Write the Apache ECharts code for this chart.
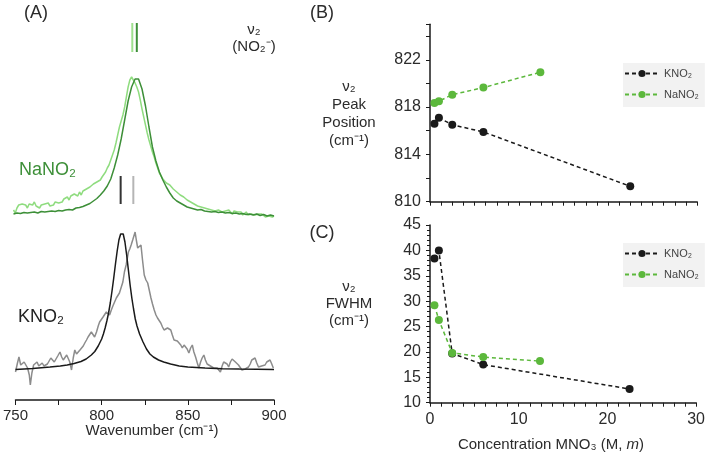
<!DOCTYPE html>
<html>
<head>
<meta charset="utf-8">
<script src="https://cdn.jsdelivr.net/npm/echarts@6/dist/echarts.min.js"></script>
<style>
  html, body { margin: 0; padding: 0; background: #fff; }
  #main { width: 708px; height: 454px; }
</style>
</head>
<body>
<div id="main"></div>
<script>
// (A) spectra: [wavenumber cm-1, intensity above baseline, arb. units]
const naDark = [
  [750,-1],[752,0],[754,-0.5],[756,0.5],[758,0],[760,0.5],[762,1],[764,0],[766,1.5],[768,1],
  [770,1.5],[772,2],[774,1.5],[776,2.5],[778,2],[780,3],[782,3.5],[784,3],[786,5],[788,5.5],
  [790,6.5],[792,8],[794,9.5],[796,12],[798,14.5],[800,18],[802,22],[804,27],[806,34],[808,45],
  [810,58],[812,74],[814,93],[816,112],[818,126],[820,134],[821,135],[822,134],[824,124],[826,107],
  [828,86],[830,66],[832,52],[834,41],[836,33],[838,26],[840,20],[842,15],[844,12],[846,10],
  [848,8],[850,6],[852,5],[854,4],[856,3],[858,3.5],[860,2],[862,1.5],[864,1],[866,1.5],
  [868,0.5],[870,1],[872,0],[874,0.5],[876,-0.5],[878,0],[880,-1],[882,-0.5],[884,-1.5],[886,-1],
  [888,-2],[890,-1],[892,-2.5],[894,-1.5],[896,-3],[898,-2],[900,-3]
];
const naLight = [
  [750,3],[751,0],[752,5],[753,8],[754,6],[755,9],[756,7],[757,8],[758,5],[759,9],
  [760,10],[761,8],[762,11],[763,7],[764,9],[765,5],[766,8],[767,6],[768,9],[769,8],
  [770,10],[771,7],[772,9],[773,8],[774,11],[775,9],[776,10],[777,12],[778,11],[779,14],
  [780,13],[781,16],[782,13],[783,17],[784,15],[785,19],[786,20],[787,17],[788,21],[789,18],
  [790,22],[791,20],[792,24],[793,22],[794,26],[795,25],[796,29],[797,27],[798,31],[799,30],
  [800,33],[801,36],[802,38],[803,41],[804,45],[805,48],[806,53],[807,58],[808,63],[809,70],
  [810,78],[811,86],[812,92],[813,98],[814,106],[815,116],[816,126],[817,133],[818,136],[819,134],
  [820,130],[821,126],[822,121],[823,113],[824,104],[825,96],[826,88],[827,80],[828,73],[829,67],
  [830,61],[831,56],[832,50],[833,45],[834,40],[835,37],[836,34],[837,33],[838,30],[839,31],
  [840,28],[841,27],[842,24],[843,25],[844,21],[845,22],[846,18],[847,19],[848,16],[849,17],
  [850,13],[851,14],[852,11],[853,12],[854,9],[855,10],[856,7],[857,9],[858,6],[859,8],
  [860,5],[861,7],[862,4],[863,6],[864,3],[865,5],[866,2],[867,4],[868,3],[869,5],
  [870,1],[871,3],[872,2],[873,0],[874,3],[875,1],[876,-1],[877,2],[878,0],[879,1],
  [880,-1],[881,1],[882,-2],[883,0],[884,1],[885,-2],[886,0],[887,-1],[888,1],[889,-2],
  [890,0],[891,-1],[892,-3],[893,-1],[894,-2],[895,-4],[896,-2],[897,-3],[898,-1],[899,-4],[900,-3]
];
const kFit = [
  [750,0.5],[760,1.5],[770,3],[776,4],[780,5],[784,6.5],[788,8.5],[791,11],[794,15],[796,18.5],
  [798,24],[800,31],[801,36],[802,42],[803,49],[804,57],[805,67],[806,79],[807,92],[808,106],
  [809,119],[810,130],[811,136],[811.7,138],[812.5,136],[813.5,128],[814.5,115],[815.5,100],[816.5,85],[817.5,72],
  [818.5,61],[819.5,51],[820.5,44],[822,36],[824,28],[826,21],[828,16],[830,13],[833,10],[836,8],
  [840,6],[845,4],[850,3],[860,2],[870,1.3],[880,1],[900,0.5]
];
const kExp = [
  [750,-2],[751,6],[752,13],[753,5],[754,3],[755,8],[756,6],[757,2],[758,-5],[758.6,-15],
  [759.5,-3],[760.5,5],[761.5,7],[762.5,8],[763.5,4],[764.5,6],[765.5,7],[766.5,4],[767.5,2],[768.5,6],
  [769.5,9],[770.5,12],[771.5,10],[772.5,8],[773.5,10],[774.5,14],[775.8,18],[776.8,13],[777.7,10],[778.7,12],
  [779.7,15],[780.6,17],[781.5,8],[782.5,0],[783.5,12],[784.4,20],[785.4,16],[786.4,17],[787.4,20],[788.3,22],
  [789.3,24],[790.2,27],[791.2,30],[792.1,33],[793,35],[794,38],[795,36],[795.9,33],[797,38],[798,44],
  [798.8,48],[799.8,50],[800.8,53],[801.7,55],[802.7,58],[803.6,56],[804.6,55],[805.6,60],[806.5,64],[807.5,68],
  [808.5,72],[809.5,74],[810.3,77],[811.3,78],[812.3,88],[813.2,98],[814.2,105],[815.5,118],[816.3,121],[817.1,125],
  [818,130],[818.7,128],[819.4,138],[820.1,130],[820.9,122],[821.8,124],[822.8,125],[823.7,110],[824.7,95],[825.7,90],
  [826.7,87],[827.6,80],[828.6,72],[829.5,66],[830.5,60],[831.5,55],[832.4,52],[833.4,50],[834.3,47],[835.3,43],
  [836.2,40],[837.2,38],[838.2,42],[839.1,41],[840.1,40],[841,35],[842,30],[843,31],[843.9,29],[844.9,28],
  [845.9,25],[846.8,22],[847.8,25],[848.7,27],[849.6,21],[850.6,17],[851.6,22],[852.6,25],[853.5,18],[854.5,13],
  [855.5,7],[856.4,2],[857.4,8],[858.3,12],[859.3,15],[860.2,10],[861.2,6],[862.1,5],[863.1,4],[864,3],
  [865,2],[866,1],[867,2],[868,0],[868.9,-2],[869.9,4],[870.8,8],[871.8,10],[872.8,6],[873.7,3],
  [874.7,8],[875.7,11],[876.6,12],[877.6,8],[878.5,6],[879.4,5],[880.4,3],[881.4,0],[882.3,-2],[883.3,1],
  [884.2,3],[885.2,3],[886.2,6],[887.1,10],[888.1,11],[889,12],[890,7],[891,3],[891.9,2],[892.8,4],
  [893.8,6],[894.8,5],[895.8,8],[896.7,10],[897.7,10],[898.7,6],[899.6,2],[900,2]
];
// peak position marks (cm-1): KNO2 fit, KNO2 exp, NaNO2 light, NaNO2 dark
const peakMarks = [811.7, 819.0, 818.4, 821.0];
const wnTicks = [750, 800, 850, 900];

// (B) and (C)
const concKNO2 = [0.5, 1, 2.5, 6, 22.5];
const posKNO2 = [816.6, 817.1, 816.5, 815.9, 811.3];
const fwhmKNO2 = [38.4, 40.0, 19.7, 17.5, 12.7];
const concNaNO2 = [0.5, 1, 2.5, 6, 12.4];
const posNaNO2 = [818.35, 818.5, 819.05, 819.65, 820.95];
const fwhmNaNO2 = [29.2, 26.3, 19.8, 19.0, 18.2];

const FONT = '"Liberation Sans", Arial, sans-serif';
const TXT = '#2b2b2b';
const BLACK = '#1a1a1a';
const GREEN = '#5cb83c';
const zip = (xs, ys) => xs.map((x, i) => [x, ys[i]]);

const chart = echarts.init(document.getElementById('main'));

const markSeries = (wn, y0, y1, color, gi) => ({
  type: 'line', xAxisIndex: gi, yAxisIndex: gi, silent: true,
  data: [[wn, y0], [wn, y1]], symbol: 'none',
  lineStyle: { color: color, width: 2 }, z: 1
});

const spec = (data, color, gi) => ({
  type: 'line', xAxisIndex: gi, yAxisIndex: gi, silent: true,
  data: data, symbol: 'none', lineStyle: { color: color, width: 1.5 }
});

const pts = (name, data, color, gi) => ({
  name: name, type: 'line', xAxisIndex: gi, yAxisIndex: gi,
  data: data, symbol: 'circle', symbolSize: 8,
  itemStyle: { color: color },
  lineStyle: { color: color, width: 1.5, type: [4, 3] }
});

const plainAxis = { show: false };
const legendBase = {
  orient: 'vertical', itemWidth: 34, itemHeight: 9, itemGap: 10,
  backgroundColor: '#f2f2f2', padding: [5, 6, 7, 1],
  textStyle: { fontFamily: FONT, fontSize: 11, color: '#444' },
  data: ['KNO₂', 'NaNO₂']
};

const valueAxisY = (min, max, interval, fmt) => ({
  type: 'value', min: min, max: max, interval: interval,
  axisLine: { show: true, lineStyle: { color: BLACK, width: 1.5 } },
  axisTick: { show: true, length: 4, lineStyle: { color: BLACK } },
  splitLine: { show: false },
  axisLabel: { fontFamily: FONT, fontSize: 16, color: TXT, margin: 9, formatter: fmt }
});

const concAxis = (gi, labels) => ({
  type: 'value', gridIndex: gi, min: 0, max: 30, interval: 10,
  axisLine: { onZero: false, lineStyle: { color: BLACK, width: 1.5 } },
  axisTick: { length: 4, lineStyle: { color: BLACK } },
  minorTick: { show: true, splitNumber: 8, length: 4, lineStyle: { color: BLACK } },
  splitLine: { show: false },
  axisLabel: { show: labels, fontFamily: FONT, fontSize: 16, color: TXT, margin: 9 }
});

const option = {
  animation: false,
  backgroundColor: '#fff',
  grid: [
    { left: 13.5, width: 260.5, top: 18, height: 215 },
    { left: 13.5, width: 260.5, top: 205, height: 195 },
    { left: 430, width: 267, top: 24.3, height: 177.4 },
    { left: 430, width: 267, top: 225, height: 177.7 }
  ],
  xAxis: [
    Object.assign({ type: 'value', gridIndex: 0, min: 750, max: 900 }, plainAxis),
    {
      type: 'value', gridIndex: 1, min: wnTicks[0], max: wnTicks[wnTicks.length - 1], interval: 50,
      axisLine: { onZero: false, lineStyle: { color: BLACK, width: 1.5 } },
      axisTick: { length: 5, lineStyle: { color: BLACK } },
      minorTick: { show: true, splitNumber: 2, length: 5, lineStyle: { color: BLACK } },
      splitLine: { show: false },
      axisLabel: { fontFamily: FONT, fontSize: 15, color: TXT, margin: 8 }
    },
    concAxis(2, false),
    concAxis(3, true)
  ],
  yAxis: [
    Object.assign({ type: 'value', gridIndex: 0, min: -20, max: 195 }, plainAxis),
    Object.assign({ type: 'value', gridIndex: 1, min: -30, max: 165 }, plainAxis),
    Object.assign(valueAxisY(810, 825, 2, v => ((v - 810) % 4 === 0 && v <= 822) ? v : ''), { gridIndex: 2 }),
    Object.assign(valueAxisY(10, 45, 5), {
      gridIndex: 3,
      minorTick: { show: true, splitNumber: 5, length: 3, lineStyle: { color: BLACK } }
    })
  ],
  legend: [
    Object.assign({ left: 623, top: 63 }, legendBase),
    Object.assign({ left: 623, top: 243 }, legendBase)
  ],
  series: [
    spec(naLight, '#8fdc7f', 0),
    spec(naDark, '#3d8f38', 0),
    spec(kExp, '#8c8c8c', 1),
    spec(kFit, BLACK, 1),
    markSeries(peakMarks[0], 9, 37, '#333', 0),
    markSeries(peakMarks[1], 9, 37, '#b5b5b5', 0),
    markSeries(peakMarks[2], 161, 190, '#9fe08f', 0),
    markSeries(peakMarks[3], 161, 190, '#3d8f38', 0),
    pts('KNO₂', zip(concKNO2, posKNO2), BLACK, 2),
    pts('NaNO₂', zip(concNaNO2, posNaNO2), GREEN, 2),
    pts('KNO₂', zip(concKNO2, fwhmKNO2), BLACK, 3),
    pts('NaNO₂', zip(concNaNO2, fwhmNaNO2), GREEN, 3)
  ],
  graphic: [
    { type: 'text', x: 36, y: 13, style: { text: '(A)', font: '18px ' + FONT, fill: TXT, textAlign: 'center', textVerticalAlign: 'middle' } },
    { type: 'text', x: 322, y: 13, style: { text: '(B)', font: '18px ' + FONT, fill: TXT, textAlign: 'center', textVerticalAlign: 'middle' } },
    { type: 'text', x: 322, y: 233, style: { text: '(C)', font: '18px ' + FONT, fill: TXT, textAlign: 'center', textVerticalAlign: 'middle' } },
    { type: 'text', x: 254, y: 30, style: { text: 'ν₂', font: '15px ' + FONT, fill: TXT, textAlign: 'center', textVerticalAlign: 'middle' } },
    { type: 'text', x: 254, y: 47, style: { text: '(NO₂⁻)', font: '15px ' + FONT, fill: TXT, textAlign: 'center', textVerticalAlign: 'middle' } },
    { type: 'text', x: 19, y: 170, style: { text: 'NaNO₂', font: '18px ' + FONT, fill: '#3d8f38', textAlign: 'left', textVerticalAlign: 'middle' } },
    { type: 'text', x: 18, y: 317, style: { text: 'KNO₂', font: '18px ' + FONT, fill: '#222', textAlign: 'left', textVerticalAlign: 'middle' } },
    { type: 'text', x: 152, y: 431, style: { text: 'Wavenumber (cm⁻¹)', font: '15px ' + FONT, fill: TXT, textAlign: 'center', textVerticalAlign: 'middle' } },
    { type: 'text', x: 349, y: 114, style: { text: 'ν₂\nPeak\nPosition\n(cm⁻¹)', font: '15px ' + FONT, lineHeight: 18, fill: TXT, textAlign: 'center', textVerticalAlign: 'middle' } },
    { type: 'text', x: 349, y: 304, style: { text: 'ν₂\nFWHM\n(cm⁻¹)', font: '15px ' + FONT, lineHeight: 17, fill: TXT, textAlign: 'center', textVerticalAlign: 'middle' } },
    {
      type: 'text', x: 551, y: 445,
      style: {
        text: '{a|Concentration MNO₃ (M, }{i|m}{a|)}', textAlign: 'center', textVerticalAlign: 'middle',
        rich: {
          a: { font: '15px ' + FONT, fill: TXT },
          i: { font: 'italic 15px ' + FONT, fill: TXT }
        }
      }
    }
  ]
};

chart.setOption(option);
</script>
</body>
</html>
